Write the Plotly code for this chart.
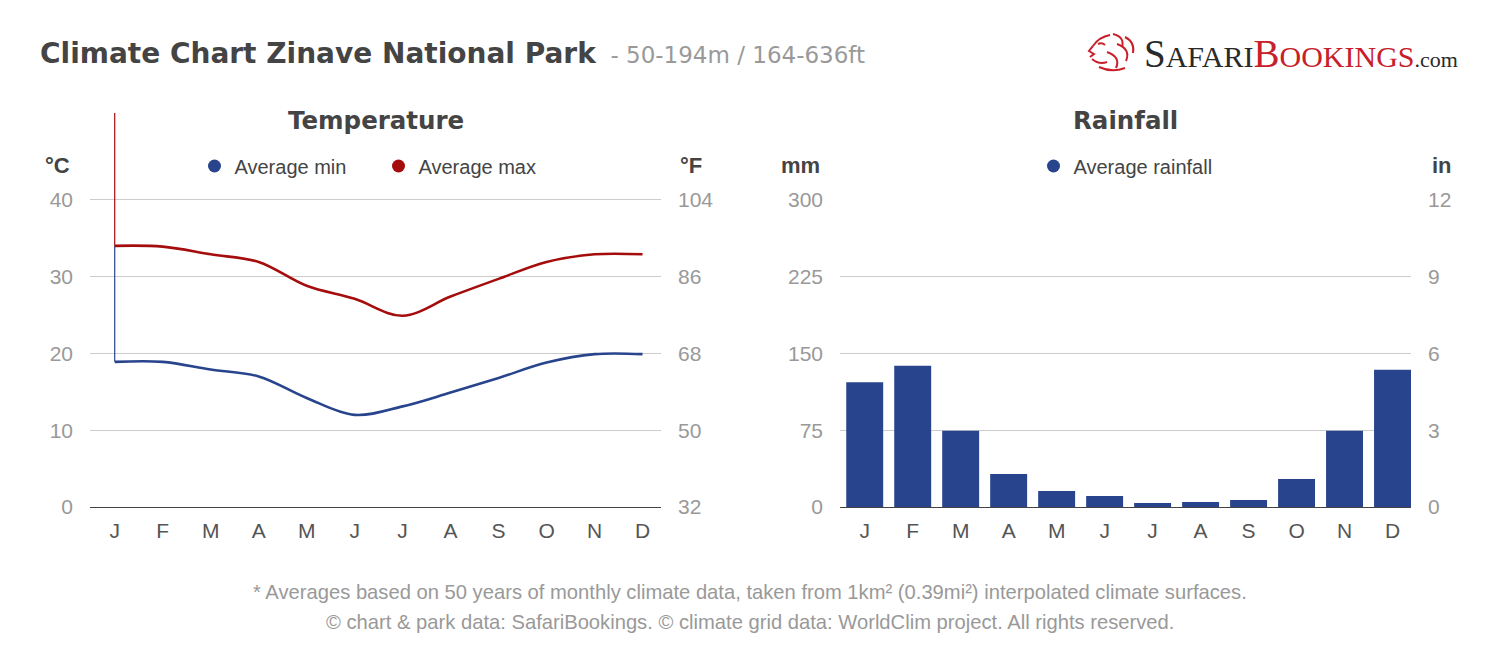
import plotly.graph_objects as go

months = ["J", "F", "M", "A", "M", "J", "J", "A", "S", "O", "N", "D"]
temp_min = [18.9, 18.9, 17.9, 17.0, 14.2, 12.0, 13.1, 14.9, 16.8, 18.8, 19.9, 19.9]
temp_max = [34.0, 33.9, 32.9, 31.9, 28.8, 27.1, 24.9, 27.4, 29.7, 31.9, 32.9, 32.9]
rainfall = [122, 138, 74.6, 32.2, 15.6, 10.7, 3.9, 4.9, 6.8, 27.4, 74.6, 134]

c_ticks = [0, 10, 20, 30, 40]
f_ticks = [32, 50, 68, 86, 104]
mm_ticks = [0, 75, 150, 225, 300]
in_ticks = [0, 3, 6, 9, 12]

TEMP_TOP = 51.3  # top of the temperature plot area (°C)

BLUE = "#27448c"
RED = "#a50c0c"
LOGO_RED = "#c8202a"
FONT = "Liberation Sans, Arial, sans-serif"
HFONT = "DejaVu Sans, Verdana, sans-serif"

xi = list(range(len(months)))

fig = go.Figure()

# artifact vertical strokes at January (as in the original rendering)
fig.add_trace(go.Scatter(x=[0, 0], y=[TEMP_TOP, temp_max[0]], mode="lines",
                         line=dict(color=RED, width=1.2), showlegend=False,
                         hoverinfo="skip", xaxis="x", yaxis="y"))
fig.add_trace(go.Scatter(x=[0, 0], y=[temp_max[0], temp_min[0]], mode="lines",
                         line=dict(color=BLUE, width=1.2), showlegend=False,
                         hoverinfo="skip", xaxis="x", yaxis="y"))

fig.add_trace(go.Scatter(x=xi, y=temp_min, mode="lines",
                         line=dict(color=BLUE, width=2.6, shape="spline", smoothing=1),
                         showlegend=False, xaxis="x", yaxis="y", name="Average min"))
fig.add_trace(go.Scatter(x=xi, y=temp_max, mode="lines",
                         line=dict(color=RED, width=2.6, shape="spline", smoothing=1),
                         showlegend=False, xaxis="x", yaxis="y", name="Average max"))

# legend entries (circle markers)
fig.add_trace(go.Scatter(x=[None], y=[None], mode="markers", name="Average min",
                         marker=dict(color=BLUE, size=13, symbol="circle"),
                         xaxis="x", yaxis="y", legend="legend"))
fig.add_trace(go.Scatter(x=[None], y=[None], mode="markers", name="Average max",
                         marker=dict(color=RED, size=13, symbol="circle"),
                         xaxis="x", yaxis="y", legend="legend"))

# dummy for °F axis
fig.add_trace(go.Scatter(x=[None], y=[None], showlegend=False, xaxis="x", yaxis="y2"))

fig.add_trace(go.Bar(x=xi, y=rainfall, marker=dict(color=BLUE, line=dict(width=0)),
                     width=0.77, showlegend=False, xaxis="x2", yaxis="y3",
                     name="Average rainfall"))
fig.add_trace(go.Scatter(x=[None], y=[None], mode="markers", name="Average rainfall",
                         marker=dict(color=BLUE, size=13, symbol="circle"),
                         xaxis="x2", yaxis="y3", legend="legend2"))
fig.add_trace(go.Scatter(x=[None], y=[None], showlegend=False, xaxis="x2", yaxis="y4"))

W, H = 1500, 652
OFF = 8  # page body margin compensation


def px(x):
    return (x - OFF) / W


def py(y):
    return 1 - (y - OFF) / H


xr = [-0.515, 11.385]
ydom_bottom = py(507)

xcommon = dict(tickmode="array", tickvals=xi, ticktext=months, range=xr,
               showgrid=False, zeroline=False, showline=True, linecolor="#444444",
               linewidth=1.3, ticks="", tickfont=dict(family=FONT, size=21, color="#555555"),
               ticklabelstandoff=5, fixedrange=True, automargin=False)
ycommon = dict(showgrid=True, gridcolor="#cccccc", gridwidth=1, zeroline=False,
               showline=False, ticks="", tickfont=dict(family=FONT, size=21, color="#999999"),
               ticklabelstandoff=16, fixedrange=True, automargin=False)

fig.update_layout(
    width=W, height=H,
    margin=dict(l=0, r=0, t=0, b=0, autoexpand=False),
    paper_bgcolor="white", plot_bgcolor="white",
    font=dict(family=FONT, color="#444444"),
    bargap=0.23,
    xaxis=dict(domain=[px(90), px(661)], anchor="y", **xcommon),
    yaxis=dict(domain=[ydom_bottom, py(113)], range=[0, TEMP_TOP],
               tickvals=c_ticks, anchor="x", **ycommon),
    yaxis2=dict(overlaying="y", side="right", anchor="x",
                range=[f_ticks[0], f_ticks[0] + TEMP_TOP * 1.8], tickvals=f_ticks,
                **{**ycommon, "showgrid": False}),
    xaxis2=dict(domain=[px(840), px(1411)], anchor="y3", **xcommon),
    yaxis3=dict(domain=[ydom_bottom, py(200)], range=[0, mm_ticks[-1]],
                tickvals=mm_ticks, anchor="x2", **ycommon),
    yaxis4=dict(overlaying="y3", side="right", anchor="x2",
                range=[0, in_ticks[-1]], tickvals=in_ticks,
                **{**ycommon, "showgrid": False}),
    legend=dict(orientation="h", x=px(378.5), xanchor="center", y=py(166), yanchor="middle",
                font=dict(family=FONT, size=20, color="#444444"), bgcolor="rgba(0,0,0,0)",
                itemsizing="trace", entrywidth=139, entrywidthmode="pixels"),
    legend2=dict(orientation="h", x=px(1125.5), xanchor="center", y=py(166), yanchor="middle",
                 font=dict(family=FONT, size=20, color="#444444"), bgcolor="rgba(0,0,0,0)",
                 itemsizing="trace"),
)

ann = []
ann.append(dict(x=px(38), y=py(53), xref="paper", yref="paper", xanchor="left", yanchor="middle",
                showarrow=False,
                text="<b>Climate Chart Zinave National Park</b>"
                     "<span style='font-size:23px;color:#999999'>  - 50-194m / 164-636ft</span>",
                font=dict(family=HFONT, size=28, color="#444444")))
ann.append(dict(x=px(1460), y=py(53), xref="paper", yref="paper", xanchor="right", yanchor="middle",
                showarrow=False,
                text="<span style='font-size:39px'>S</span>AFARI"
                     f"<span style='font-size:39px;color:{LOGO_RED}'>B</span>"
                     f"<span style='color:{LOGO_RED}'>OOKINGS</span>"
                     "<span style='font-size:22px'>.com</span>",
                font=dict(family="Liberation Serif, serif", size=30, color="#2a2a2a")))
ann.append(dict(x=px(375.5), y=py(120), xref="paper", yref="paper", xanchor="center",
                yanchor="middle", showarrow=False, text="<b>Temperature</b>",
                font=dict(family=HFONT, size=24.5, color="#444444")))
ann.append(dict(x=px(1125.5), y=py(120), xref="paper", yref="paper", xanchor="center",
                yanchor="middle", showarrow=False, text="<b>Rainfall</b>",
                font=dict(family=HFONT, size=24.5, color="#444444")))
for txt, x, anc in [("°C", 72, "right"), ("°F", 678, "left"), ("mm", 822, "right"), ("in", 1430, "left")]:
    ann.append(dict(x=px(x), y=py(165), xref="paper", yref="paper", xanchor=anc, yanchor="middle",
                    showarrow=False, text=f"<b>{txt}</b>",
                    font=dict(family=FONT, size=22, color="#444444")))
ann.append(dict(x=px(750), y=py(592), xref="paper", yref="paper", xanchor="center", yanchor="middle",
                showarrow=False,
                text="* Averages based on 50 years of monthly climate data, taken from 1km² (0.39mi²) interpolated climate surfaces.",
                font=dict(family=FONT, size=20.2, color="#999999")))
ann.append(dict(x=px(750), y=py(622), xref="paper", yref="paper", xanchor="center", yanchor="middle",
                showarrow=False,
                text="© chart &amp; park data: SafariBookings. © climate grid data: WorldClim project. All rights reserved.",
                font=dict(family=FONT, size=20.2, color="#999999")))
fig.update_layout(annotations=ann)


# decorative lion-head emblem of the logo (rough sketch of strokes)
def pth(cmds):
    out = []
    for c in cmds:
        if isinstance(c, str):
            out.append(c)
        else:
            out.append(f"{px(c[0]):.5f},{py(c[1]):.5f}")
    return " ".join(out)


lion_strokes = [
    ["M", (1093, 46), "Q", (1099, 37), (1110, 35)],
    ["M", (1093, 46), "L", (1089, 51), "L", (1094, 54), "L", (1090, 57)],
    ["M", (1092, 59), "Q", (1099, 65), (1107, 62)],
    ["M", (1098, 44), "Q", (1102, 42), (1105, 45)],
    ["M", (1113, 34), "Q", (1125, 37), (1122, 47)],
    ["M", (1117, 44), "Q", (1131, 49), (1126, 61)],
    ["M", (1107, 52), "Q", (1121, 57), (1116, 68)],
    ["M", (1099, 67), "Q", (1112, 73), (1125, 68)],
    ["M", (1125, 37), "Q", (1135, 42), (1133, 53)],
]
shapes = []
for s in lion_strokes:
    shapes.append(dict(type="path", xref="paper", yref="paper", path=pth(s),
                       line=dict(color=LOGO_RED, width=2)))
fig.update_layout(shapes=shapes)

fig.write_html("out.html")
